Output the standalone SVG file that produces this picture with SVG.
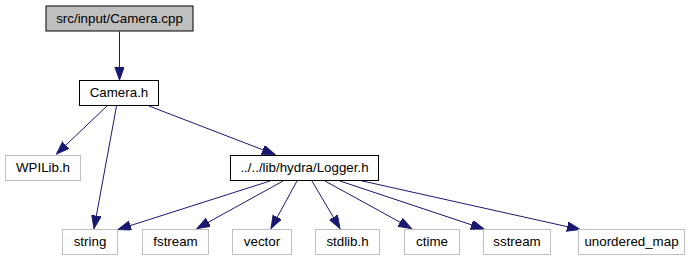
<svg xmlns="http://www.w3.org/2000/svg" width="693" height="261" viewBox="0 0 693 261">
  <style>
    .box { fill: #ffffff; stroke: #000000; stroke-width: 1; }
    .root { fill: #bfbfbf; stroke: #000000; stroke-width: 1; }
    .ext { fill: #ffffff; stroke: #bfbfbf; stroke-width: 1; }
    text { font-family: "Liberation Sans", Arial, Helvetica, sans-serif; font-size: 13.33px; fill: #000000; text-anchor: middle; }
    .edge { fill: none; stroke: #191970; stroke-width: 1; marker-end: url(#arrow); }
  </style>
  <defs>
    <marker id="arrow" markerUnits="userSpaceOnUse" markerWidth="14" markerHeight="11" refX="13" refY="4.7" orient="auto">
      <path d="M0,0 L13,4.7 L0,9.4 z" fill="#191970" stroke="#191970"/>
    </marker>
  </defs>

  <g id="edges">
    <path class="edge" d="M119.5,31.5 L119.5,80"/>
    <path class="edge" d="M107,106 L56.5,154"/>
    <path class="edge" d="M116.5,106 L94,228.5"/>
    <path class="edge" d="M149,106 L275,154.5"/>
    <path class="edge" d="M270,181 L118,229.5"/>
    <path class="edge" d="M283,181 L197,228.5"/>
    <path class="edge" d="M297,181 L271,228.5"/>
    <path class="edge" d="M312,181 L340,228.5"/>
    <path class="edge" d="M325,181 L411.5,228.5"/>
    <path class="edge" d="M340,181 L484,229"/>
    <path class="edge" d="M358,180 L580,229.5"/>
  </g>

  <g id="node-camera-cpp">
    <rect class="root" x="46" y="6" width="147" height="25"/>
    <text x="119.5" y="22.5">src/input/Camera.cpp</text>
  </g>
  <g id="node-camera-h">
    <rect class="box" x="79.5" y="80.5" width="79" height="25"/>
    <text x="119" y="97">Camera.h</text>
  </g>
  <g id="node-wpilib">
    <rect class="ext" x="5.5" y="155.5" width="75" height="25"/>
    <text x="43" y="172">WPILib.h</text>
  </g>
  <g id="node-logger">
    <rect class="box" x="230.5" y="155.5" width="148" height="25"/>
    <text x="304.5" y="172">../../lib/hydra/Logger.h</text>
  </g>
  <g id="node-string">
    <rect class="ext" x="62.5" y="229.5" width="55" height="25"/>
    <text x="90" y="246">string</text>
  </g>
  <g id="node-fstream">
    <rect class="ext" x="142.5" y="229.5" width="66" height="25"/>
    <text x="175.5" y="246">fstream</text>
  </g>
  <g id="node-vector">
    <rect class="ext" x="232.5" y="229.5" width="59" height="25"/>
    <text x="262" y="246">vector</text>
  </g>
  <g id="node-stdlib">
    <rect class="ext" x="315.5" y="229.5" width="64" height="25"/>
    <text x="347.5" y="246">stdlib.h</text>
  </g>
  <g id="node-ctime">
    <rect class="ext" x="404.5" y="229.5" width="55" height="25"/>
    <text x="432" y="246">ctime</text>
  </g>
  <g id="node-sstream">
    <rect class="ext" x="483.5" y="229.5" width="67" height="25"/>
    <text x="517" y="246">sstream</text>
  </g>
  <g id="node-unordered-map">
    <rect class="ext" x="578.5" y="229.5" width="106" height="25"/>
    <text x="631.5" y="246">unordered_map</text>
  </g>
</svg>
